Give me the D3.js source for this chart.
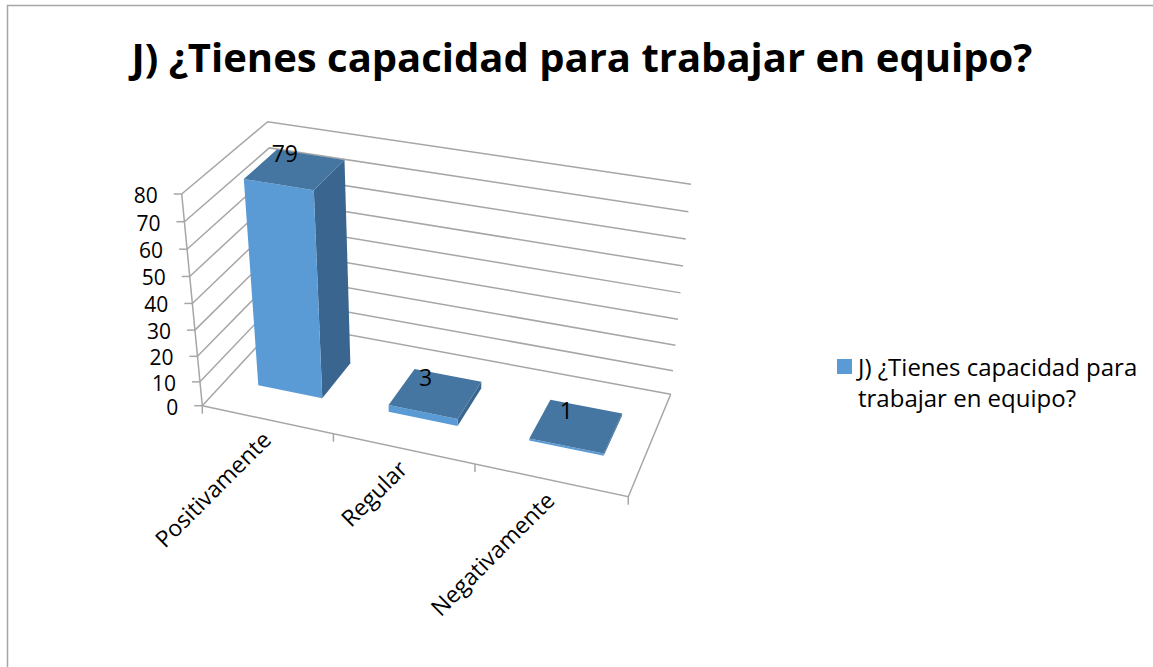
<!DOCTYPE html>
<html>
<head>
<meta charset="utf-8">
<script src="https://d3js.org/d3.v7.min.js"></script>
<style>
  html, body { margin: 0; background: #fff; }
  svg { display: block; }
  text { font-family: "Open Sans", sans-serif; fill: #000; }
</style>
</head>
<body>
<div id="chart"></div>
<script>
const titleText = "J) ¿Tienes capacidad para trabajar en equipo?";
const categories = ["Positivamente", "Regular", "Negativamente"];
const values = [79, 3, 1];
const yTicks = [0, 10, 20, 30, 40, 50, 60, 70, 80];
const legendLines = ["J) ¿Tienes capacidad para", "trabajar en equipo?"];

const width = 1153;
const height = 667;
const gridColor = "#a6a6a6";

const svg = d3.select("#chart").append("svg")
  .attr("width", width)
  .attr("height", height);

// Box corners on screen, the 3D view is a projection between them
const floorQuad = [[202.3, 405.7], [628.3, 496.7], [670.7, 394.3], [279.8, 322]];
const topQuad = [[181.7, 194], [648, 273], [691, 184.3], [267.7, 121.7]];

// Unit square to quad (projective)
function quadMap(q) {
  const [p0, p1, p2, p3] = q;
  const dx1 = p1[0] - p2[0], dx2 = p3[0] - p2[0], sx = p0[0] - p1[0] + p2[0] - p3[0];
  const dy1 = p1[1] - p2[1], dy2 = p3[1] - p2[1], sy = p0[1] - p1[1] + p2[1] - p3[1];
  const det = dx1 * dy2 - dx2 * dy1;
  const g = (sx * dy2 - dx2 * sy) / det;
  const h = (dx1 * sy - sx * dy1) / det;
  const a = p1[0] - p0[0] + g * p1[0], b = p3[0] - p0[0] + h * p3[0], c = p0[0];
  const d = p1[1] - p0[1] + g * p1[1], e = p3[1] - p0[1] + h * p3[1], f = p0[1];
  return (u, v) => {
    const w = g * u + h * v + 1;
    return [(a * u + b * v + c) / w, (d * u + e * v + f) / w];
  };
}
const floorAt = quadMap(floorQuad);
const topAt = quadMap(topQuad);

// u along the categories, d into the depth, z is the value
const x = d3.scaleBand().domain(categories).range([0, 1]).paddingInner(0.5).paddingOuter(0.25);
const depth = d3.scaleLinear().domain([0, 1]).range([0.3, 0.7]);
const z = d3.scalePow().exponent(1.05).domain([0, 80]).range([0, 1]);

function project(u, d, value) {
  const a = floorAt(u, d), b = topAt(u, d), t = z(value);
  return [a[0] + (b[0] - a[0]) * t, a[1] + (b[1] - a[1]) * t];
}

const line = d3.line();

// Frame
svg.append("path")
  .attr("d", `M7.5,${height}V5.5H${width}`)
  .attr("fill", "none")
  .attr("stroke", gridColor)
  .attr("stroke-width", 1.5);

// Title
svg.append("text")
  .attr("x", 582)
  .attr("y", 72)
  .attr("text-anchor", "middle")
  .attr("font-size", 40)
  .attr("font-weight", 700)
  .text(titleText);

// Gridlines on the side wall and the back wall
const grid = svg.append("g")
  .attr("fill", "none")
  .attr("stroke", gridColor)
  .attr("stroke-width", 1.5);

grid.selectAll("path.grid")
  .data(yTicks)
  .join("path")
  .attr("class", "grid")
  .attr("d", (t) => line([project(0, 0, t), project(0, 1, t), project(1, 1, t)]));

// Floor edges and value axis
grid.append("path").attr("d", line([project(0, 0, 0), project(1, 0, 0), project(1, 1, 0)]));
grid.append("path").attr("d", line([project(0, 0, 0), project(0, 0, 80)]));

// Value ticks and labels
grid.selectAll("path.ytick")
  .data(yTicks)
  .join("path")
  .attr("class", "ytick")
  .attr("d", (t) => {
    const p = project(0, 0, t);
    return line([[p[0] - 8, p[1]], p]);
  });

svg.selectAll("text.ylabel")
  .data(yTicks)
  .join("text")
  .attr("class", "ylabel")
  .attr("x", (t) => project(0, 0, t)[0] - 24)
  .attr("y", (t) => project(0, 0, t)[1] + 9)
  .attr("text-anchor", "end")
  .attr("font-size", 21)
  .text((t) => t);

// Category ticks and labels
grid.selectAll("path.xtick")
  .data([0, 1, 2, 3])
  .join("path")
  .attr("class", "xtick")
  .attr("d", (i) => {
    const p = project(i / categories.length, 0, 0);
    return line([p, [p[0], p[1] + 8]]);
  });

svg.selectAll("text.xlabel")
  .data(categories)
  .join("text")
  .attr("class", "xlabel")
  .attr("text-anchor", "end")
  .attr("font-size", 23)
  .attr("transform", (c) => {
    const p = project(x(c) + x.bandwidth() / 2, 0, 0);
    return `translate(${p[0] + 6},${p[1] + 22}) rotate(-45)`;
  })
  .text((c) => c);

// Bars, they do not overlap so the order does not matter
const bars = svg.selectAll("g.bar")
  .data(categories.map((c, i) => ({ c, value: values[i] })))
  .join("g")
  .attr("class", "bar");

function face(d, corners) {
  const u0 = x(d.c), u1 = x(d.c) + x.bandwidth();
  return line(corners.map(([a, b, top]) => project(a ? u1 : u0, depth(b), top ? d.value : 0))) + "Z";
}

bars.append("path")
  .attr("fill", "#3a658e")
  .attr("d", (d) => face(d, [[1, 0, 0], [1, 1, 0], [1, 1, 1], [1, 0, 1]]));
bars.append("path")
  .attr("fill", "#5b9bd5")
  .attr("d", (d) => face(d, [[0, 0, 0], [1, 0, 0], [1, 0, 1], [0, 0, 1]]));
bars.append("path")
  .attr("fill", "#4575a1")
  .attr("d", (d) => face(d, [[0, 0, 1], [1, 0, 1], [1, 1, 1], [0, 1, 1]]));

// Value labels sit just up and left of the centre of each bar top
bars.append("text")
  .attr("font-size", 23)
  .attr("text-anchor", "middle")
  .attr("x", (d) => project(x(d.c) + x.bandwidth() / 2, depth(0.5), d.value)[0] - 10)
  .attr("y", (d) => project(x(d.c) + x.bandwidth() / 2, depth(0.5), d.value)[1] - 7)
  .text((d) => d.value);

// Legend
svg.append("rect")
  .attr("x", 837)
  .attr("y", 359)
  .attr("width", 15)
  .attr("height", 15)
  .attr("fill", "#5b9bd5");

svg.selectAll("text.legend")
  .data(legendLines)
  .join("text")
  .attr("class", "legend")
  .attr("x", 858)
  .attr("y", (d, i) => 376 + i * 31)
  .attr("font-size", 24)
  .text((d) => d);
</script>
</body>
</html>
